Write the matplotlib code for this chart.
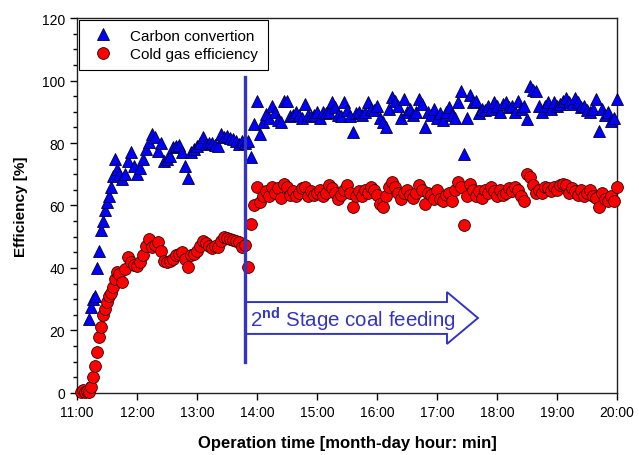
import numpy as np
import matplotlib
matplotlib.use("Agg")
import matplotlib.pyplot as plt
import matplotlib.patches as mpatches

plt.rcParams['font.family'] = ['Liberation Sans', 'DejaVu Sans']
plt.rcParams['mathtext.fontset'] = 'custom'
plt.rcParams['mathtext.rm'] = 'Liberation Sans'
plt.rcParams['mathtext.bf'] = 'Liberation Sans:bold'

# minutes after 11:00
times = [4, 6, 8, 10, 12, 14, 16, 18, 20, 22, 24, 26, 28, 30, 32, 34, 36, 38, 40,
         42, 45, 48, 51, 54, 57, 60, 63, 66, 69,
         72, 75, 78, 81, 84, 87, 90, 93, 96, 99,
         102, 105, 108, 111, 114, 117, 120, 123, 126, 129,
         132, 135, 138, 141, 144, 147, 150, 153, 156, 159,
         162, 165, 168, 171, 174, 177, 180, 183, 186, 189,
         192, 195, 198, 201, 204, 207, 210, 213, 216, 219,
         222, 225, 228, 231, 234, 237, 240, 243, 246, 249,
         252, 255, 258, 261, 264, 267, 270, 273, 276, 279,
         282, 285, 288, 291, 294, 297, 300, 303, 306, 309,
         312, 315, 318, 321, 324, 327, 330, 333, 336, 339,
         342, 345, 348, 351, 354, 357, 360, 363, 366, 369,
         372, 375, 378, 381, 384, 387, 390, 393, 396, 399,
         402, 405, 408, 411, 414, 417, 420, 423, 426, 429,
         432, 435, 438, 441, 444, 447, 450, 453, 456, 459,
         462, 465, 468, 471, 474, 477, 480, 483, 486, 489,
         492, 495, 498, 501, 504, 507, 510, 513, 516, 519,
         522, 525, 528, 531, 534, 537, 540]

carbon = [None, None, 0.5, 1.5, 23.7, 27.4, 30, 31, 40, 45.5, 52, 55, 58.4, 61, 63, 65.8, 69.5, 75, 71.7,
          70, 68.5, 70, 74.3, 77, 72.5, 70, 72, 75, 78,
          80.2, 82.9, 81.9, 77.5, 80, 74.3, 75, 76, 78.7, 79,
          79.5, 77, 72.7, 68.7, 77, 78, 79, 80, 81.8, 79.7,
          80, 80, 79.5, 79, 82.9, 82, 82.4, 81.5, 81.3, 80.5,
          79.7, 80.8, 80, 80.7, 75.4, 86, 93.5, 83, 86.6, 89.3,
          88, 92, 89.9, 87.5, 86.6, 93.5, 93.5, 88.8, 89, 90,
          89, 88, 92.5, 89, 88.5, 89, 90, 88, 90, 89.5,
          90, 93, 91.5, 89, 88.8, 93, 90.5, 88.5, 83.4, 89.6,
          90, 89, 90, 93, 91, 90.5, 92, 88, 86.6, 85,
          91, 94.6, 93.5, 92, 88, 94, 90, 91, 89, 90,
          94, 92.5, 85, 90, 89, 91, 88, 89.5, 87.5, 90,
          91.5, 89, 88, 93, 96.7, 76.5, 88, 95.5, 93, 93.5,
          89.5, 91, 90.5, 92, 91, 93, 92, 90, 92.5, 93,
          91.5, 92, 90, 93.5, 91, 92, 87.7, 98.3, 97, 96.5,
          92, 90, 92, 93, 91, 93, 92, 92.5, 93.5, 94.5,
          93, 92.5, 94.5, 93, 91.5, 92, 90.5, 90, 91, 94,
          84, 91, 89, 90, 87, 88, 94]

cold_gas = [0.3, 0.8, 0.2, 0.5, 0.3, 1.8, 5, 8.7, 13, 17.8, 21, 25, 27, 29, 31, 32, 34, 36.5, 38.7,
            38, 35.5, 39.8, 43.4, 41.8, 41, 40.7, 41.8, 44, 47,
            49.3, 46.6, 47.5, 48.2, 45.5, 42.3, 42, 42.3, 43, 44,
            44.5, 45, 43, 40.2, 44, 44.5, 45.5, 47, 48.7, 48,
            47, 46.5, 47, 46.6, 48.5, 49.8, 49.5, 49.3, 49, 48.5,
            48.2, 46.6, 47.5, 40.3, 54, 60, 65.8, 61, 63, 64.5,
            63, 66, 64, 65.5, 62.5, 67, 66, 63.5, 64.5, 63,
            64, 65.5, 66, 63, 64.5, 63.5, 64, 65, 63, 64,
            66.5, 65.5, 64, 62, 63.5, 65, 66.5, 64, 59.4, 63,
            64.5, 63, 65, 64, 66, 65, 63.5, 60.5, 59.4, 63,
            66, 67.4, 66, 64, 62, 64, 65, 63.5, 62.5, 64,
            66.5, 65, 60.5, 64, 63.5, 62, 65, 62, 61.5, 63.5,
            64, 61.5, 65, 67.5, 66, 53.9, 63, 67, 65, 63,
            64.5, 62.5, 65, 64, 66, 64.5, 63, 65, 63.5, 64,
            65.5, 64.5, 66, 65, 63, 61.5, 70, 69, 66.5, 64,
            65, 64, 66, 65.5, 64.5, 66, 65, 66.5, 67, 66.5,
            64, 65.5, 64.5, 63.5, 65, 63, 64, 65, 63, 62.5,
            59.4, 64, 62, 61.5, 63, 61.5, 65.8]

tick_minutes = [0, 60, 120, 180, 240, 300, 360, 420, 480, 540]
tick_labels = ["11:00", "12:00", "13:00", "14:00", "15:00", "16:00", "17:00", "18:00", "19:00", "20:00"]

feed_time = 168  # 13:48, start of 2nd stage coal feeding

t = np.array(times, dtype=float)
cc = np.array(carbon, dtype=float)
cg = np.array(cold_gas, dtype=float)

fig = plt.figure(figsize=(6.39, 4.56), dpi=100)
ax = fig.add_axes([0.1205, 0.136, 0.845, 0.8223])

ax.plot(t, cc, linestyle='none', marker='^', markersize=8, markerfacecolor='#0000ff',
        markeredgecolor='#000033', markeredgewidth=0.6, label='Carbon convertion', clip_on=False, zorder=3)
ax.plot(t, cg, linestyle='none', marker='o', markersize=8.5, markerfacecolor='#ff0000',
        markeredgecolor='#330000', markeredgewidth=0.6, label='Cold gas efficiency', clip_on=False, zorder=3)

# 2nd stage feeding marker
line_color = '#3434c4'
ax.plot([feed_time, feed_time], [10, 101], color=line_color, linewidth=2.4, zorder=5)
arrow = mpatches.FancyArrow(feed_time, 24, 233, 0, width=10.2, head_width=16.6, head_length=31,
                            length_includes_head=True, facecolor='white', edgecolor=line_color,
                            linewidth=1.4, zorder=4)
ax.add_patch(arrow)
ax.text(feed_time + 5, 24, r"2$^{\bf nd}$ Stage coal feeding", color=line_color, fontsize=14.8,
        va='center', ha='left', zorder=6)

ax.set_xlim(0, 540)
ax.set_ylim(0, 120)
ax.set_xticks(tick_minutes)
ax.set_xticklabels(tick_labels)
ax.set_yticks(np.arange(0, 121, 20))
ax.set_yticks(np.arange(0, 121, 5), minor=True)
ax.tick_params(axis='both', which='major', direction='out', length=5, width=1, labelsize=10)
ax.tick_params(axis='y', which='minor', direction='out', length=3, width=1)
for s in ax.spines.values():
    s.set_linewidth(1)
    s.set_color('#222222')

ax.set_xlabel("Operation time [month-day hour: min]", fontsize=12, fontweight='bold', labelpad=12)
ax.set_ylabel("Efficiency [%]", fontsize=11, fontweight='bold', labelpad=10)

leg = ax.legend(loc='upper left', bbox_to_anchor=(0, 1), borderaxespad=0.1, fontsize=11,
                frameon=True, fancybox=False, framealpha=1, edgecolor='black',
                borderpad=0.6, handlelength=2, handletextpad=0.8, labelspacing=0.3)
leg.get_frame().set_linewidth(0.8)

fig.savefig("out.png", dpi=100)
